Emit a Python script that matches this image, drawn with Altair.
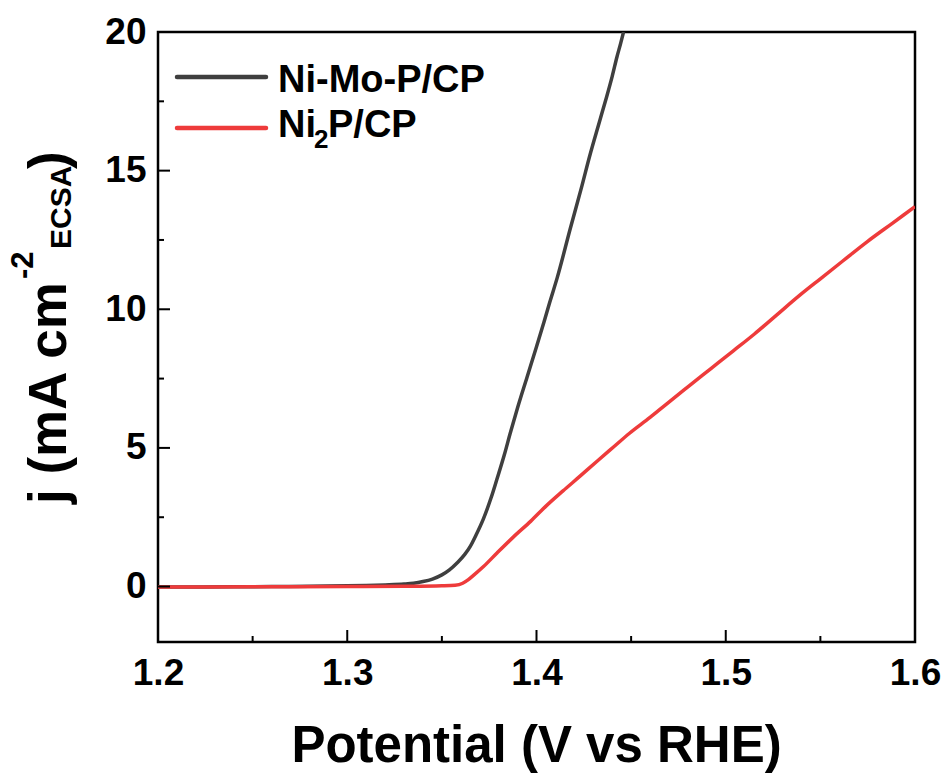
import altair as alt
import pandas as pd

# ---- data ----
nimop_v = [1.200, 1.220, 1.240, 1.260, 1.280, 1.300, 1.310, 1.320, 1.330, 1.335, 1.340,
           1.345, 1.350, 1.354, 1.358, 1.362, 1.365, 1.368, 1.372, 1.376, 1.379, 1.383,
           1.386, 1.390, 1.395, 1.400, 1.404, 1.407, 1.411, 1.418, 1.424, 1.428, 1.433,
           1.437, 1.440, 1.4425, 1.4445, 1.446]
nimop_j = [-0.02, -0.02, -0.01, 0.00, 0.01, 0.03, 0.04, 0.06, 0.09, 0.12, 0.18,
           0.27, 0.42, 0.60, 0.85, 1.15, 1.45, 1.85, 2.45, 3.20, 3.85, 4.75,
           5.50, 6.45, 7.55, 8.65, 9.55, 10.25, 11.15, 12.95, 14.45, 15.50, 16.70,
           17.65, 18.40, 19.10, 19.60, 20.00]

ni2p_v = [1.200, 1.250, 1.300, 1.330, 1.350, 1.357, 1.361, 1.364, 1.367, 1.372, 1.379,
          1.388, 1.397, 1.405, 1.414, 1.423, 1.432, 1.441, 1.449, 1.460, 1.469, 1.480,
          1.492, 1.504, 1.515, 1.527, 1.539, 1.550, 1.562, 1.575, 1.588, 1.600]
ni2p_j = [-0.02, -0.01, 0.00, 0.01, 0.03, 0.05, 0.12, 0.25, 0.42, 0.72, 1.20,
          1.80, 2.36, 2.90, 3.45, 3.98, 4.52, 5.05, 5.52, 6.10, 6.60, 7.20,
          7.85, 8.50, 9.10, 9.80, 10.50, 11.10, 11.75, 12.45, 13.10, 13.70]

x_major = [1.2, 1.3, 1.4, 1.5, 1.6]
x_minor = [1.25, 1.35, 1.45, 1.55]
y_major = [0, 5, 10, 15, 20]
y_minor = [2.5, 7.5, 12.5, 17.5]

X_DOMAIN = [1.2, 1.6]
Y_DOMAIN = [-2, 20]

BLACK = "#3f3f3f"
RED = "#ee3b3b"
FONT = "Liberation Sans"

W, H = 757, 610

df_black = pd.DataFrame({"V": nimop_v, "j": nimop_j})
df_red = pd.DataFrame({"V": ni2p_v, "j": ni2p_j})
one = pd.DataFrame({"k": [0]})

xscale = alt.Scale(domain=X_DOMAIN, nice=False, zero=False)
yscale = alt.Scale(domain=Y_DOMAIN, nice=False, zero=False)

xaxis = alt.Axis(values=x_major, format=".1f", ticks=False, domain=False, grid=False,
                 labelFont=FONT, labelFontWeight="bold", labelFontSize=37,
                 labelColor="black", labelPadding=13, title=None, labelFlush=False)
yaxis = alt.Axis(values=y_major, format="d", ticks=False, domain=False, grid=False,
                 labelFont=FONT, labelFontWeight="bold", labelFontSize=37,
                 labelColor="black", labelPadding=12, title=None, labelFlush=False)

line_black = alt.Chart(df_black).mark_line(color=BLACK, strokeWidth=3.5, clip=True,
                                           interpolate="monotone").encode(
    x=alt.X("V:Q", scale=xscale, axis=xaxis),
    y=alt.Y("j:Q", scale=yscale, axis=yaxis),
)
line_red = alt.Chart(df_red).mark_line(color=RED, strokeWidth=3.5, clip=True,
                                       interpolate="monotone").encode(
    x=alt.X("V:Q", scale=xscale),
    y=alt.Y("j:Q", scale=yscale),
)

# inward ticks
xt_major = alt.Chart(pd.DataFrame({"v": x_major})).mark_rule(color="black", strokeWidth=2).encode(
    x=alt.X("v:Q", scale=xscale), y=alt.value(H), y2=alt.value(H - 12))
xt_minor = alt.Chart(pd.DataFrame({"v": x_minor})).mark_rule(color="black", strokeWidth=2).encode(
    x=alt.X("v:Q", scale=xscale), y=alt.value(H), y2=alt.value(H - 6))
yt_major = alt.Chart(pd.DataFrame({"v": y_major})).mark_rule(color="black", strokeWidth=2).encode(
    y=alt.Y("v:Q", scale=yscale), x=alt.value(0), x2=alt.value(12))
yt_minor = alt.Chart(pd.DataFrame({"v": y_minor})).mark_rule(color="black", strokeWidth=2).encode(
    y=alt.Y("v:Q", scale=yscale), x=alt.value(0), x2=alt.value(6))


def txt(s, x, y, size, angle=0, align="left"):
    return alt.Chart(one).mark_text(
        text=s, font=FONT, fontWeight="bold", fontSize=size, angle=angle,
        align=align, baseline="alphabetic", color="black"
    ).encode(x=alt.value(x), y=alt.value(y))


# x title
xtitle = txt("Potential (V vs RHE)", W / 2, 730, 51, align="center")

# y title pieces (rotated)
yt1 = txt("j (mA cm", -92, 472, 53, angle=270)
yt2 = txt("-2", -125, 247, 31, angle=270)
yt3 = txt("ECSA", -87, 217, 30, angle=270)
yt4 = txt(")", -92, 137, 53, angle=270)

# legend
leg_black = alt.Chart(one).mark_rule(color=BLACK, strokeWidth=4.5, strokeCap="round").encode(
    x=alt.value(19), x2=alt.value(108), y=alt.value(45))
leg_red = alt.Chart(one).mark_rule(color=RED, strokeWidth=4.5, strokeCap="round").encode(
    x=alt.value(19), x2=alt.value(108), y=alt.value(96))
lt1 = txt("Ni-Mo-P/CP", 120, 60, 38)
lt2 = txt("Ni", 120, 105, 38)
lt3 = txt("2", 156, 116, 26)
lt4 = txt("P/CP", 170, 105, 38)

chart = alt.layer(
    line_black, line_red, xt_major, xt_minor, yt_major, yt_minor,
    xtitle, yt1, yt2, yt3, yt4, leg_black, leg_red, lt1, lt2, lt3, lt4
).properties(
    width=W, height=H,
    background="white",
    autosize=alt.AutoSizeParams(type="none"),
    padding={"left": 158, "top": 32, "right": 32, "bottom": 134},
).configure_view(
    stroke="black", strokeWidth=2.5
)

chart.save("out.html", embed_options={"renderer": "svg", "actions": False})
